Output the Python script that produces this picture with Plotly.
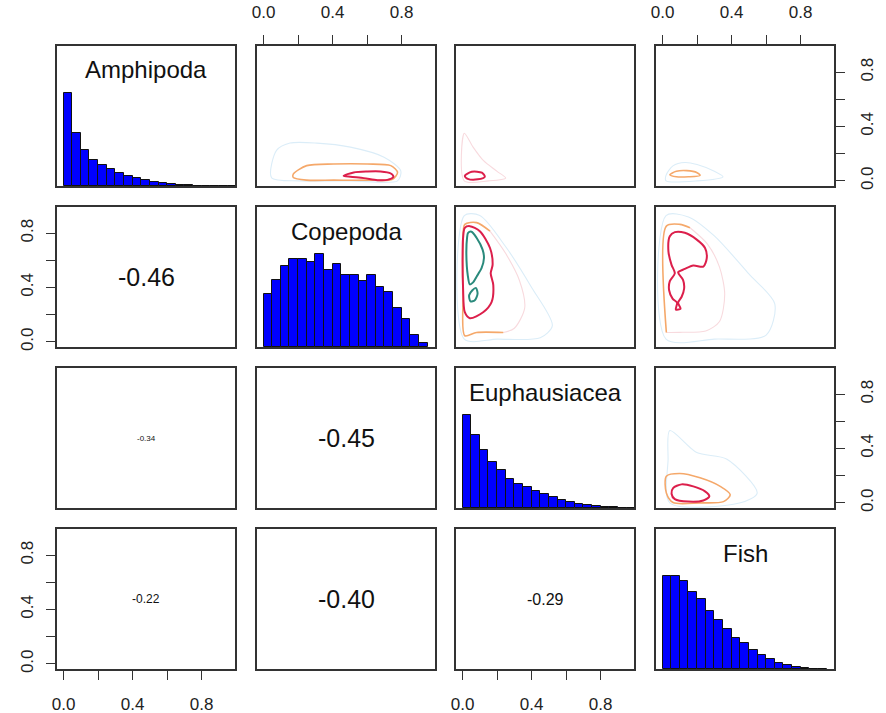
import plotly.graph_objects as go

# ---------------- data ----------------
variables = ["Amphipoda", "Copepoda", "Euphausiacea", "Fish"]

hist_breaks = [0.00, 0.05, 0.10, 0.15, 0.20, 0.25, 0.30, 0.35, 0.40, 0.45,
               0.50, 0.55, 0.60, 0.65, 0.70, 0.75, 0.80, 0.85, 0.90, 0.95, 1.00]

# relative bar heights (scaled so the tallest bar = 1)
hist_amphipoda = [1.00, 0.567, 0.383, 0.277, 0.223, 0.177, 0.138, 0.106, 0.082, 0.060,
                  0.043, 0.028, 0.018, 0.011, 0.007, 0.004, 0.002, 0.001, 0.001, 0.0]
hist_copepoda = [0.572, 0.722, 0.864, 0.946, 0.939, 0.910, 1.000, 0.821, 0.893, 0.768,
                 0.768, 0.707, 0.768, 0.642, 0.589, 0.418, 0.304, 0.125, 0.047]
hist_euphausiacea = [1.00, 0.787, 0.620, 0.496, 0.408, 0.312, 0.259, 0.227, 0.184, 0.149,
                     0.117, 0.089, 0.064, 0.043, 0.028, 0.018, 0.011, 0.007, 0.003, 0.001]
hist_fish = [1.00, 0.995, 0.940, 0.830, 0.750, 0.620, 0.520, 0.430, 0.330, 0.280,
             0.200, 0.150, 0.110, 0.068, 0.040, 0.018, 0.008, 0.003, 0.001]
hist_values = [hist_amphipoda, hist_copepoda, hist_euphausiacea, hist_fish]

# correlations shown in the lower panels: (row, col, text, font size)
correlations = [(1, 0, "-0.46", 25), (2, 0, "-0.34", 8), (2, 1, "-0.45", 25),
                (3, 0, "-0.22", 12), (3, 1, "-0.40", 25), (3, 2, "-0.29", 16)]

# density contour lines (data coordinates) for the upper panels
# each entry: (row, col, level colour name, x list, y list)
contours = [
    # Amphipoda (y) vs Copepoda (x)
    (0, 1, "blue",
     [0.046, 0.075, 0.153, 0.309, 0.503, 0.698, 0.795, 0.776, 0.503, 0.211, 0.046],
     [0.024, 0.224, 0.278, 0.278, 0.248, 0.174, 0.074, 0.000, 0.000, 0.000, 0.024]),
    (0, 1, "orange",
     [0.172, 0.250, 0.406, 0.601, 0.737, 0.776, 0.747, 0.601, 0.406, 0.250, 0.172, 0.172],
     [0.050, 0.112, 0.124, 0.124, 0.112, 0.062, 0.012, 0.005, 0.005, 0.005, 0.024, 0.050]),
    (0, 1, "red",
     [0.464, 0.522, 0.601, 0.678, 0.737, 0.752, 0.717, 0.659, 0.581, 0.503, 0.464],
     [0.037, 0.062, 0.069, 0.069, 0.054, 0.030, 0.007, 0.005, 0.020, 0.030, 0.037]),
    # Amphipoda (y) vs Euphausiacea (x)
    (0, 2, "pink",
     [0.010, 0.060, 0.120, 0.200, 0.250, 0.150, 0.010, 0.010],
     [0.350, 0.250, 0.150, 0.070, 0.020, 0.000, 0.000, 0.350]),
    (0, 2, "red",
     [0.013, 0.053, 0.112, 0.129, 0.088, 0.030, 0.013],
     [0.037, 0.067, 0.060, 0.030, 0.011, 0.015, 0.037]),
    # Amphipoda (y) vs Fish (x)
    (0, 3, "blue",
     [0.020, 0.060, 0.130, 0.200, 0.300, 0.350, 0.200, 0.020, 0.020],
     [0.040, 0.110, 0.135, 0.120, 0.070, 0.030, 0.000, 0.000, 0.040]),
    (0, 3, "orange",
     [0.042, 0.080, 0.140, 0.200, 0.217, 0.150, 0.080, 0.042],
     [0.045, 0.070, 0.075, 0.060, 0.040, 0.030, 0.030, 0.045]),
    # Copepoda (y) vs Euphausiacea (x)
    (1, 2, "blue",
     [0.010, 0.100, 0.250, 0.400, 0.520, 0.450, 0.200, 0.010, 0.010],
     [0.930, 0.930, 0.700, 0.400, 0.120, 0.030, 0.020, 0.020, 0.930]),
    (1, 2, "pink",
     [0.159, 0.250, 0.330, 0.360, 0.300, 0.236],
     [0.815, 0.650, 0.450, 0.250, 0.100, 0.069]),
    (1, 2, "orange",
     [0.236, 0.081, 0.013, 0.003, 0.003, 0.013, 0.081, 0.159],
     [0.069, 0.069, 0.045, 0.343, 0.716, 0.865, 0.878, 0.815]),
    (1, 2, "red",
     [0.013, 0.042, 0.100, 0.159, 0.174, 0.163, 0.178, 0.168, 0.119, 0.042, 0.013, 0.003, 0.000, 0.003, 0.013],
     [0.840, 0.852, 0.815, 0.691, 0.567, 0.505, 0.418, 0.293, 0.218, 0.174, 0.218, 0.393, 0.591, 0.766, 0.840]),
    (1, 2, "teal",
     [0.032, 0.052, 0.081, 0.116, 0.124, 0.110, 0.081, 0.061, 0.042, 0.030, 0.022, 0.026, 0.032],
     [0.803, 0.811, 0.766, 0.679, 0.617, 0.542, 0.480, 0.438, 0.423, 0.492, 0.641, 0.766, 0.803]),
    (1, 2, "teal",
     [0.057, 0.077, 0.087, 0.071, 0.046, 0.038, 0.057],
     [0.380, 0.397, 0.356, 0.306, 0.298, 0.343, 0.380]),
    # Copepoda (y) vs Fish (x)
    (1, 3, "blue",
     [0.020, 0.150, 0.300, 0.500, 0.650, 0.600, 0.300, 0.020, 0.020],
     [0.930, 0.920, 0.780, 0.500, 0.280, 0.050, 0.020, 0.020, 0.930]),
    (1, 3, "pink",
     [0.159, 0.260, 0.330, 0.360, 0.330, 0.250, 0.100, 0.022],
     [0.840, 0.720, 0.550, 0.350, 0.150, 0.080, 0.070, 0.069]),
    (1, 3, "orange",
     [0.022, 0.022, 0.100, 0.159],
     [0.069, 0.852, 0.865, 0.840]),
    (1, 3, "red",
     [0.042, 0.071, 0.129, 0.198, 0.246, 0.256, 0.236, 0.178, 0.129, 0.090, 0.119, 0.125,
      0.110, 0.090, 0.104, 0.077, 0.084, 0.058, 0.038, 0.042, 0.071, 0.052, 0.034, 0.042],
     [0.778, 0.808, 0.803, 0.753, 0.691, 0.617, 0.554, 0.562, 0.537, 0.512, 0.455, 0.393,
      0.330, 0.288, 0.244, 0.238, 0.288, 0.318, 0.380, 0.447, 0.505, 0.567, 0.666, 0.778]),
    # Euphausiacea (y) vs Fish (x)
    (2, 3, "blue",
     [0.042, 0.198, 0.373, 0.548, 0.451, 0.042, 0.032, 0.042],
     [0.532, 0.370, 0.321, 0.072, 0.000, 0.000, 0.321, 0.532]),
    (2, 3, "orange",
     [0.022, 0.100, 0.217, 0.334, 0.392, 0.353, 0.217, 0.061, 0.022, 0.022],
     [0.196, 0.216, 0.184, 0.121, 0.059, 0.009, 0.000, 0.002, 0.072, 0.196]),
    (2, 3, "red",
     [0.061, 0.110, 0.178, 0.246, 0.271, 0.236, 0.149, 0.071, 0.052, 0.061],
     [0.109, 0.136, 0.121, 0.084, 0.047, 0.017, 0.009, 0.027, 0.067, 0.109]),
]

level_style = {
    "blue": ("#dbedf8", 1.1),
    "pink": ("#f8dade", 1.1),
    "orange": ("#f5a86a", 1.6),
    "red": ("#dc1f4b", 2.0),
    "teal": ("#2a8a7c", 2.0),
}

tick_vals = [0.0, 0.2, 0.4, 0.6, 0.8]
tick_text = ["0.0", "", "0.4", "", "0.8"]

# ---------------- layout geometry ----------------
W, H = 886, 713
col_left = [57, 257, 456, 656]
row_top = [46, 207, 368, 529]
pw, ph = 178, 140
axis_range = [-0.038, 0.993]

fig = go.Figure()
layout = dict(width=W, height=H, margin=dict(l=0, r=0, t=0, b=0, autoexpand=False),
              paper_bgcolor="white", plot_bgcolor="white", showlegend=False,
              font=dict(family="Liberation Sans, Arial, sans-serif", color="#222"))
annotations = []

tick_font = dict(size=17, color="#222")

for r in range(4):
    for c in range(4):
        n = r * 4 + c + 1
        xa = f"xaxis{n}" if n > 1 else "xaxis"
        ya = f"yaxis{n}" if n > 1 else "yaxis"
        xref = f"x{n}" if n > 1 else "x"
        yref = f"y{n}" if n > 1 else "y"
        x0 = col_left[c] / W
        x1 = (col_left[c] + pw) / W
        y1 = 1 - row_top[r] / H
        y0 = 1 - (row_top[r] + ph) / H
        base = dict(showline=True, mirror=True, linecolor="#333", linewidth=1.6,
                    showgrid=False, zeroline=False, ticks="", showticklabels=False,
                    fixedrange=True, automargin=False)
        xax = dict(base, domain=[x0, x1], anchor=yref, range=axis_range)
        yax = dict(base, domain=[y0, y1], anchor=xref,
                   range=[0, 1.5] if r == c else axis_range)
        tickstyle = dict(ticks="outside", ticklen=9, tickwidth=1.3, tickcolor="#333",
                         tickvals=tick_vals, ticktext=tick_text, showticklabels=True,
                         tickfont=tick_font)
        if r == 0 and c in (1, 3):
            xax.update(tickstyle, side="top", ticklabelstandoff=10)
        if r == 3 and c in (0, 2):
            xax.update(tickstyle, side="bottom", ticklabelstandoff=10)
        if c == 0 and r in (1, 3):
            yax.update(tickstyle, side="left", tickangle=-90, ticklabelstandoff=6)
        if c == 3 and r in (0, 2):
            yax.update(tickstyle, side="right", tickangle=-90, ticklabelstandoff=8)
        layout[xa] = xax
        layout[ya] = yax

        # an empty trace so every panel (and its axes) is drawn
        fig.add_trace(go.Scatter(x=[None], y=[None], mode="markers", xaxis=xref, yaxis=yref,
                                 hoverinfo="skip"))

        if r == c:
            vals = hist_values[r]
            centers = [(hist_breaks[i] + hist_breaks[i + 1]) / 2 for i in range(len(vals))]
            fig.add_trace(go.Bar(x=centers, y=vals, width=0.05, xaxis=xref, yaxis=yref,
                                 marker=dict(color="#0000ff", line=dict(color="#111", width=1)),
                                 hoverinfo="skip"))
            annotations.append(dict(text=variables[r], xref=f"{xref} domain", yref=f"{yref} domain",
                                    x=0.5, y=1 - 24 / ph, showarrow=False,
                                    font=dict(size=24, color="#111"),
                                    xanchor="center", yanchor="middle"))

for (r, c, txt, size) in correlations:
    n = r * 4 + c + 1
    annotations.append(dict(text=txt, xref=f"x{n} domain", yref=f"y{n} domain",
                            x=0.5, y=0.5, showarrow=False,
                            font=dict(size=size, color="#111"),
                            xanchor="center", yanchor="middle"))

for (r, c, level, xs, ys) in contours:
    n = r * 4 + c + 1
    col, lw = level_style[level]
    fig.add_trace(go.Scatter(x=xs, y=ys, mode="lines", xaxis=f"x{n}", yaxis=f"y{n}",
                             line=dict(color=col, width=lw, shape="spline", smoothing=0.8),
                             hoverinfo="skip"))

layout["annotations"] = annotations
layout["bargap"] = 0
fig.update_layout(**layout)
fig.write_html("out.html")
